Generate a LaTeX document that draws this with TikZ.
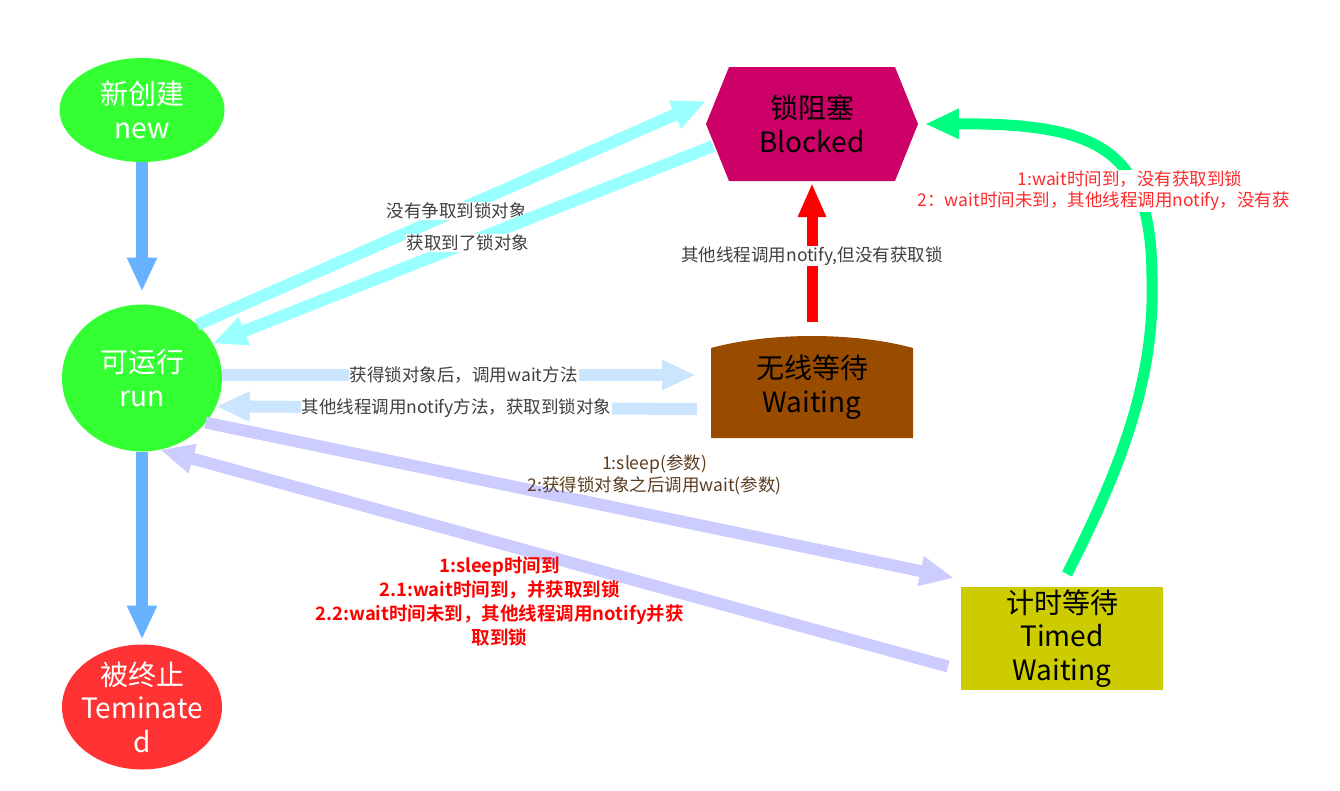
\documentclass[tikz,border=0pt]{standalone}
\usepackage{fontspec}
\setmainfont{Noto Sans CJK SC}[BoldFont={Noto Sans CJK SC Bold}]
\usetikzlibrary{arrows.meta, shapes.geometric}
\definecolor{stategreen}{HTML}{33FF33}
\definecolor{statered}{HTML}{FF3333}
\definecolor{blockedpink}{HTML}{CC0066}
\definecolor{waitbrown}{HTML}{994C00}
\definecolor{timedyellow}{HTML}{CCCC00}
\definecolor{lineblue}{HTML}{66B2FF}
\definecolor{linecyan}{HTML}{99FFFF}
\definecolor{linepale}{HTML}{CCE5FF}
\definecolor{linelav}{HTML}{CCCCFF}
\definecolor{linegreen}{HTML}{00FF80}
\definecolor{tagbrown}{HTML}{5C3D1F}
\definecolor{tagred}{HTML}{FF2A2A}

\begin{document}
\begin{tikzpicture}[x=1pt, y=-1pt,
        statetext/.style={align=center, font=\fontsize{28}{33.5}\selectfont, inner sep=0pt, outer sep=0pt},
        oval/.style={ellipse, inner sep=0pt, outer sep=0pt, minimum width=160pt},
        fat/.style={line width=12pt, -{Triangle[length=34pt, width=28pt]}},
        tag/.style={align=center, font=\fontsize{17.5}{22}\selectfont, text=black!75, fill=white, inner sep=1pt}
    ]
      \useasboundingbox (0,0) rectangle (1340,790);
      % states
      \node[oval, fill=stategreen, minimum width=165pt, minimum height=104pt,
            label={[statetext, text=white]center:新创建\\new}] (new) at (142,110) {};
      \node[oval, fill=stategreen, minimum height=147pt,
            label={[statetext, text=white]center:可运行\\run}] (run) at (142,378) {};
      \node[oval, fill=statered, minimum height=125pt,
            label={[statetext, text=white]center:被终止\\Teminate\\d}] (term) at (142,707) {};
      \fill[blockedpink] (706,124) -- (729,67) -- (895,67) -- (918,124) -- (895,181) -- (729,181) -- cycle;
      \node[statetext, minimum width=212pt, minimum height=114pt] (blocked) at (812,124) {锁阻塞\\Blocked};
      \fill[waitbrown] (711,438) -- (711,348) .. controls (770,332) and (854,332) .. (913,348) -- (913,438) -- cycle;
      \node[statetext, minimum width=202pt, minimum height=102pt] (waiting) at (812,387) {无线等待\\Waiting};
      \node[statetext, fill=timedyellow, minimum width=202pt, minimum height=103pt] (timed) at (1062,638.5) {计时等待\\Timed\\Waiting};

      % transitions
      \draw[fat, lineblue, shorten >=13pt] (new) -- (run);
      \draw[fat, lineblue, shorten >=5pt] (run) -- (term);
      \draw[fat, linecyan] (run.44) -- ([yshift=23pt]blocked.west)
           node[tag, pos=0.51] {没有争取到锁对象};
      \draw[fat, linecyan] ([shift={(7pt,-22pt)}]blocked.west) -- (run.26)
           node[tag, pos=0.49] {获取到了锁对象};
      \draw[fat, linepale] ([yshift=3pt]run.east) -- ([shift={(-15pt,12pt)}]waiting.west)
           node[tag, pos=0.51] {获得锁对象后，调用wait方法};
      \draw[fat, linepale] ([shift={(-14pt,-22pt)}]waiting.west) -- (run.-21)
           node[tag, pos=0.5] {其他线程调用notify方法，获取到锁对象};
      \draw[fat, red, line width=11pt, -{Triangle[length=34pt, width=26pt]}] ([yshift=14pt]waiting.north) -- ([yshift=-2pt]blocked.south)
           node[tag, pos=0.475] {其他线程调用notify,但没有获取锁};
      \draw[fat, linelav] (run.-35) -- ([shift={(-7pt,9pt)}]timed.north west)
           node[tag, text=tagbrown, fill=none, pos=0.6, anchor=south, yshift=14pt] {1:sleep(参数)\\2:获得锁对象之后调用wait(参数)};
      \draw[fat, linelav] ([shift={(-13pt,-28pt)}]timed.west) -- (run.-76)
           node[tag, text=red, fill=none, font=\fontsize{18.5}{24}\bfseries, pos=0.569, anchor=north, yshift=-7pt]
           {1:sleep时间到\\2.1:wait时间到，并获取到锁\\2.2:wait时间未到，其他线程调用notify并获\\取到锁};
      \draw[fat, linegreen, line width=11pt] ([shift={(5pt,13pt)}]timed.north) .. controls (1120,470) and (1155,380) .. (1152,280)
           .. controls (1152,150) and (1100,123) .. ([xshift=7pt]blocked.east);
      \node[tag, text=tagred, font=\fontsize{17.5}{21}\selectfont] (timedtag) at (1130,191)
           {1:wait时间到，没有获取到锁\\2：wait时间未到，其他线程调用notify，没有获\hphantom{取到锁}};
    \end{tikzpicture}
\end{document}
